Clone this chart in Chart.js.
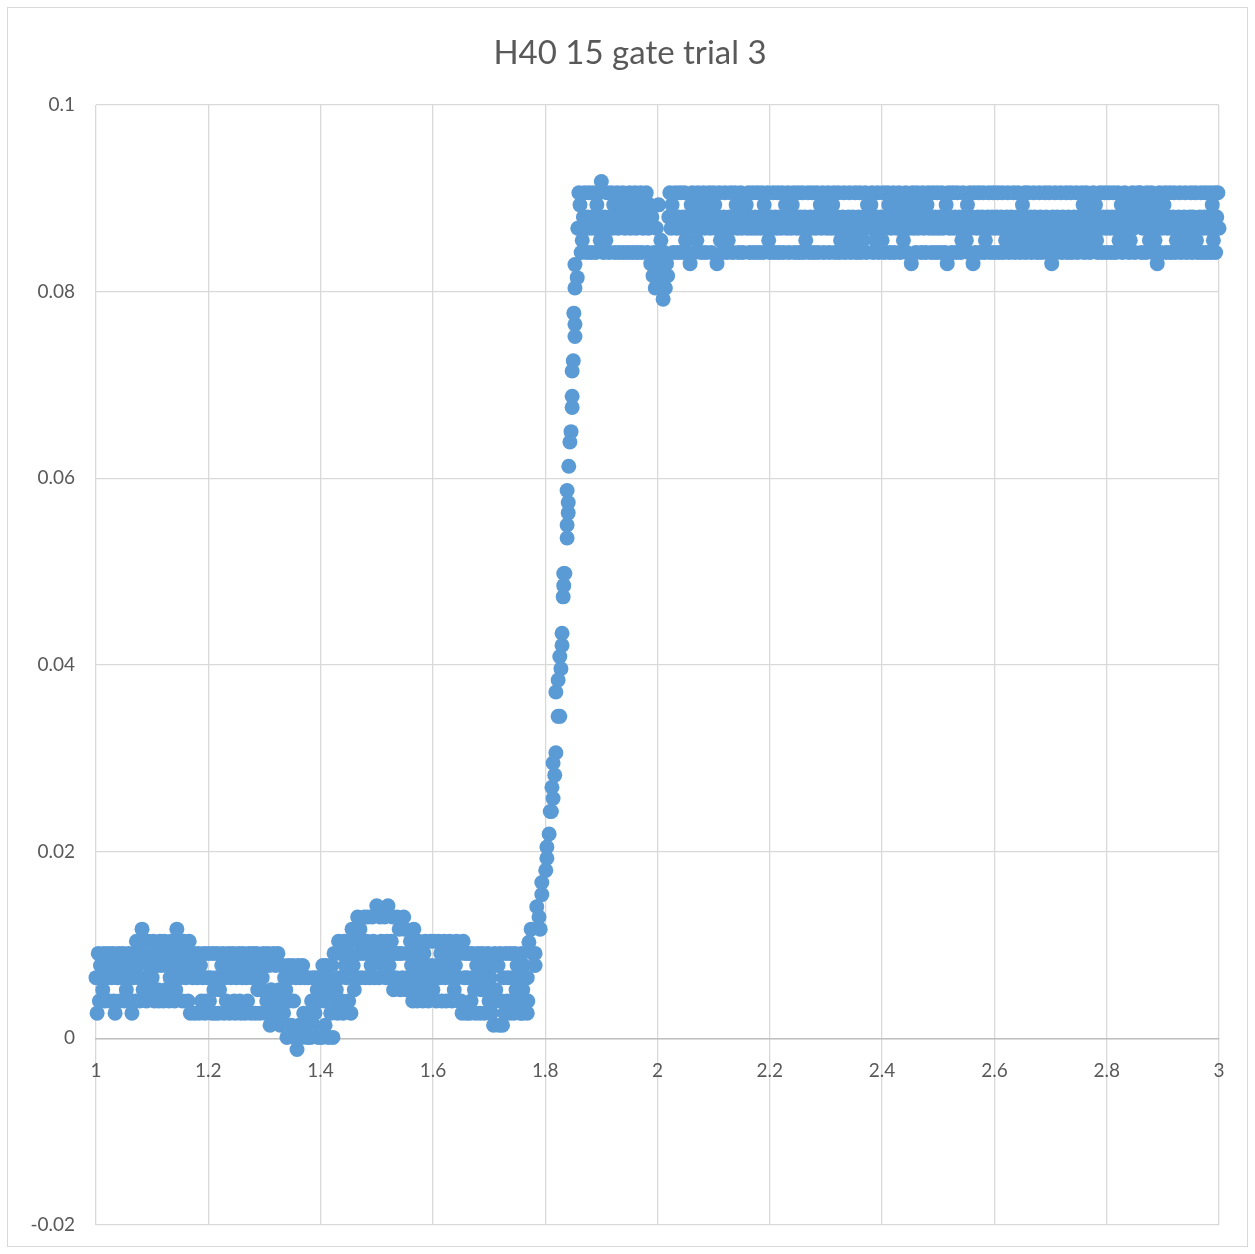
<!DOCTYPE html>
<html>
<head>
<meta charset="utf-8">
<title>H40 15 gate trial 3</title>
<script src="https://cdn.jsdelivr.net/npm/chart.js@4.4.1/dist/chart.umd.min.js"></script>
<style>
  html, body { margin: 0; padding: 0; background: #ffffff; }
  #wrap { position: relative; width: 1255px; height: 1254px; }
  canvas { display: block; }
</style>
</head>
<body>
<div id="wrap"><canvas id="chart" width="1255" height="1254"></canvas></div>
<script>
// ---- data ---------------------------------------------------------------
const chartTitle = 'H40 15 gate trial 3';
const xTickLabels = ['1', '1.2', '1.4', '1.6', '1.8', '2', '2.2', '2.4', '2.6', '2.8', '3'];
const yTickLabels = ['-0.02', '0', '0.02', '0.04', '0.06', '0.08', '0.1'];

// ADC levels seen before the gate opens (codes 0..c)
const lowLevels = [-0.0012, 0.0001, 0.0014, 0.0027, 0.0040, 0.0052, 0.0065,
                   0.0078, 0.0091, 0.0104, 0.0117, 0.0130, 0.0142];
// ADC levels seen after the gate opens (codes 0..a)
const highLevels = [0.0792, 0.0804, 0.0817, 0.0830, 0.0842, 0.0855,
                    0.0868, 0.0880, 0.0893, 0.0906, 0.0918];

// baseline readings, one code per sample, 1.000 .. 1.768 s
const lowStart = 1.000;
const lowStep = 0.002;
const lowCodes = [
  '6384765847' + '6847684376' + '8476847568' + '4736849764' + '9a58649756',
  '6948754978' + '4957846978' + '45a9768497' + '6849376837' + '6837468346',
  '8463853683' + '5678364783' + '6784367843' + '6873648736' + '8738573568',
  '7348725384' + '7385247365' + '1746274160' + '7261736216' + '3146236514',
  '6174275163' + '7184539684' + '39768493a7' + '596b8a698b' + '69b867b968',
  'c86b978b69' + 'c769b586b8' + 'a586ba5865' + '974a684975' + '6489754697',
  '5964796847' + '9648796485' + '7964843968' + '3683486537' + '8635873658',
  '4637285472' + '8426384638' + '4638574638' + '57463'
].join('');

// readings on the rising edge
const riseX = [1.759, 1.768, 1.769, 1.771, 1.775, 1.778, 1.782, 1.782, 1.785, 1.789,
               1.791, 1.794, 1.794, 1.801, 1.803, 1.803, 1.807, 1.809, 1.811, 1.812,
               1.814, 1.814, 1.817, 1.819, 1.823, 1.826, 1.819, 1.823, 1.828, 1.826,
               1.830, 1.830, 1.832, 1.833, 1.833, 1.835, 1.839, 1.839, 1.841, 1.841,
               1.839, 1.842, 1.844, 1.846, 1.848, 1.848, 1.848, 1.850, 1.853, 1.853,
               1.851, 1.853, 1.857, 1.853];
const riseY = [0.0027, 0.0065, 0.0040, 0.0103, 0.0117, 0.0091, 0.0078, 0.0091, 0.0141, 0.0130,
               0.0117, 0.0154, 0.0167, 0.0180, 0.0193, 0.0205, 0.0219, 0.0243, 0.0243, 0.0269,
               0.0257, 0.0295, 0.0282, 0.0306, 0.0345, 0.0345, 0.0371, 0.0384, 0.0396, 0.0409,
               0.0421, 0.0434, 0.0473, 0.0485, 0.0498, 0.0498, 0.0536, 0.0550, 0.0563, 0.0574,
               0.0587, 0.0613, 0.0639, 0.0650, 0.0676, 0.0688, 0.0715, 0.0726, 0.0752, 0.0765,
               0.0777, 0.0804, 0.0815, 0.0829];

// gated readings, one code per sample, 1.858 .. 3.000 s
const highStart = 1.858;
const highStep = 0.002;
const highCodes = [
  '6984579647' + '9647964879' + '5a64759647' + '9684796487' + '9468749684',
  '7964879468' + '7946837241' + '6382510413' + '2796847964' + '7964795647',
  '3896475968' + '4796487964' + '7986379564' + '7964579647' + '9864796487',
  '8694769476' + '9476948769' + '5476947694' + '7694786947' + '6894769476',
  '9475694769' + '4769478694' + '7869476894' + '6794567946' + '5794675946',
  '7946579486' + '7894657946' + '7594679846' + '7948679486' + '5794867396',
  '7496874967' + '4896749674' + '9674967483' + '9674967496' + '7459675849',
  '6739467946' + '7945679467' + '9467946794' + '6579467594' + '6795468794',
  '6957469754' + '6974569746' + '9537694756' + '9476594769' + '4576947569',
  '8479654879' + '6854796479' + '6479647964' + '7956847956' + '8457964879',
  '7946874965' + '7948563794' + '6789467946' + '7945679456' + '7946579476',
  '9546794679' + '467948594796'
].join('');

// ---- build the point list ---------------------------------------------------
function decode(codes, start, step, levels) {
  const pts = [];
  for (let i = 0; i < codes.length; i++) {
    pts.push({ x: +(start + i * step).toFixed(4), y: levels[parseInt(codes[i], 36)] });
  }
  return pts;
}
const points = []
  .concat(decode(lowCodes, lowStart, lowStep, lowLevels))
  .concat(riseX.map((x, i) => ({ x: x, y: riseY[i] })))
  .concat(decode(highCodes, highStart, highStep, highLevels));

// ---- styling ------------------------------------------------------------
const TEXT = '#595959';
const GRID = '#d9d9d9';
const FONT = 'Lato, "Open Sans", sans-serif';

const frameAndTitle = {
  id: 'frameAndTitle',
  beforeDraw(chart) {
    const ctx = chart.ctx;
    ctx.save();
    ctx.fillStyle = '#ffffff';
    ctx.fillRect(0, 0, chart.width, chart.height);
    ctx.strokeStyle = GRID;
    ctx.lineWidth = 1;
    ctx.strokeRect(7.5, 7.5, chart.width - 15, chart.height - 15);
    ctx.restore();
  },
  afterDraw(chart) {
    const ctx = chart.ctx;
    ctx.save();
    ctx.font = '33px ' + FONT;
    ctx.fillStyle = TEXT;
    ctx.textAlign = 'center';
    ctx.textBaseline = 'alphabetic';
    ctx.fillText(chartTitle, 630, 64);
    ctx.restore();
  }
};

new Chart(document.getElementById('chart'), {
  type: 'scatter',
  data: {
    datasets: [{
      label: chartTitle,
      data: points,
      backgroundColor: '#5b9bd5',
      borderColor: '#5b9bd5',
      borderWidth: 0,
      pointRadius: 7.5,
      pointHoverRadius: 7.5,
      clip: false
    }]
  },
  options: {
    responsive: false,
    animation: false,
    devicePixelRatio: 1,
    layout: { padding: { left: 0, top: 105, right: 36, bottom: 29 } },
    plugins: {
      legend: { display: false },
      tooltip: { enabled: false },
      title: { display: false }
    },
    scales: {
      x: {
        type: 'linear',
        min: 1,
        max: 3,
        position: { y: 0 },
        grid: { color: GRID, lineWidth: 1.3, drawTicks: false },
        border: { display: true, color: '#bfbfbf', width: 1.5 },
        ticks: {
          stepSize: 0.2,
          autoSkip: false,
          maxRotation: 0,
          padding: 21,
          color: TEXT,
          font: { family: FONT, size: 19 },
          callback: (v, i) => xTickLabels[i]
        }
      },
      y: {
        type: 'linear',
        min: -0.02,
        max: 0.1,
        grid: { color: GRID, lineWidth: 1.3, drawTicks: false },
        border: { display: false },
        ticks: {
          stepSize: 0.02,
          padding: 21,
          color: TEXT,
          font: { family: FONT, size: 19 },
          callback: (v, i) => yTickLabels[i]
        },
        afterFit(scale) {
          scale.width = 96;
          scale.paddingTop = 0;
          scale.paddingBottom = 0;
        }
      }
    }
  },
  plugins: [frameAndTitle]
});
</script>
</body>
</html>
